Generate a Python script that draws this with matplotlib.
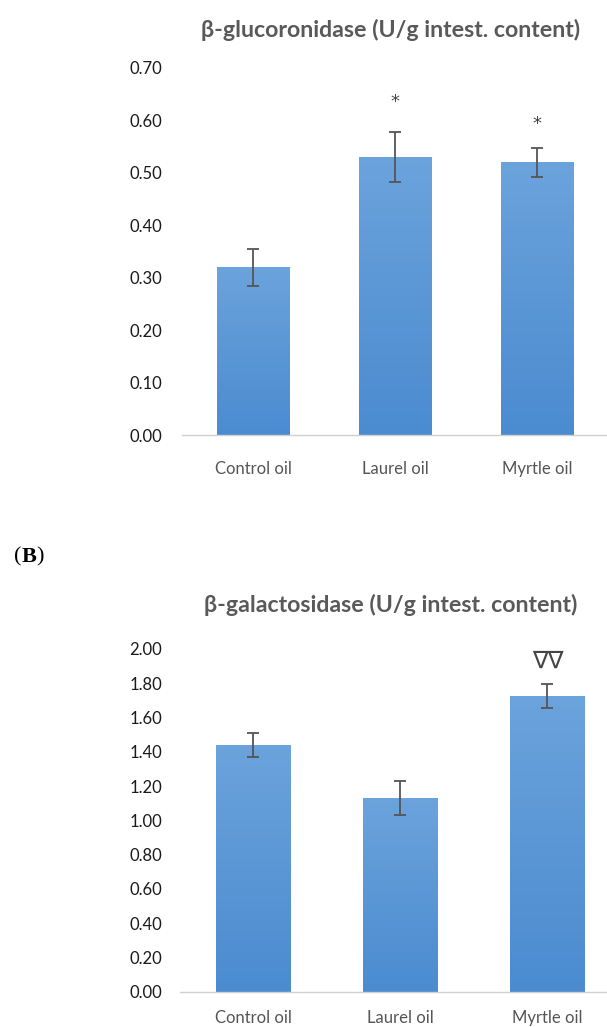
import matplotlib
matplotlib.use("Agg")
import matplotlib.pyplot as plt
import numpy as np
from matplotlib.colors import LinearSegmentedColormap

categories = ["Control oil", "Laurel oil", "Myrtle oil"]

gluc_mean = [0.32, 0.53, 0.52]
gluc_err = [0.035, 0.047, 0.027]
gluc_marks = ["", "*", "*"]
gluc_mark_y = [None, 0.635, 0.594]
gluc_ticks = [0.0, 0.1, 0.2, 0.3, 0.4, 0.5, 0.6, 0.7]

gal_mean = [1.44, 1.13, 1.725]
gal_err = [0.07, 0.10, 0.07]
gal_marks = ["", "", "∇∇"]
gal_mark_y = [None, None, 1.93]
gal_ticks = [0.0, 0.2, 0.4, 0.6, 0.8, 1.0, 1.2, 1.4, 1.6, 1.8, 2.0]

title_a = "β-glucoronidase (U/g intest. content)"
title_b = "β-galactosidase (U/g intest. content)"

FONT = "Lato"
plt.rcParams['font.family'] = [FONT, 'DejaVu Sans']

fig = plt.figure(figsize=(6.07, 10.27), dpi=100)

grad = np.linspace(0, 1, 256).reshape(-1, 1)
cmap = LinearSegmentedColormap.from_list("g", ["#4b8bd0", "#6ba3dc"])


def draw(ax, means, errs, marks, mark_y, ticks, ylim, xlab_pad, ylab_pad):
    x = np.arange(len(categories))
    bars = ax.bar(x, means, width=0.51, color="#5b9bd5", zorder=2)
    for b in bars:
        x0, y0 = b.get_x(), b.get_y()
        w, h = b.get_width(), b.get_height()
        im = ax.imshow(grad, extent=[x0, x0 + w, y0, y0 + h], origin="lower",
                       cmap=cmap, aspect="auto", zorder=2.5)
        im.set_clip_path(b)
    ax.errorbar(x, means, yerr=errs, fmt="none", ecolor="#555555",
                elinewidth=1.3, capsize=4, capthick=1.3, zorder=3)
    for xi, m, my in zip(x, marks, mark_y):
        if m:
            is_tri = "∇" in m
            ax.text(xi, my, m, ha="center", va="center",
                    fontsize=17 if is_tri else 13,
                    color="#444444", family=["DejaVu Sans"])
    ax.set_xlim(-0.5, len(categories) - 0.5)
    ax.set_ylim(*ylim)
    ax.set_yticks(ticks)
    ax.set_yticklabels([f"{t:.2f}" for t in ticks])
    ax.set_xticks(x)
    ax.set_xticklabels(categories)
    for s in ["top", "right", "left"]:
        ax.spines[s].set_visible(False)
    ax.spines["bottom"].set_color("#d0d0d0")
    ax.spines["bottom"].set_linewidth(1.0)
    ax.tick_params(axis="y", length=0, pad=ylab_pad, labelsize=12, labelcolor="#1a1a1a")
    ax.tick_params(axis="x", length=0, pad=xlab_pad, labelsize=12, labelcolor="#555555")


ax1 = fig.add_axes([0.2998, 0.5764, 0.7018, 0.3574])
draw(ax1, gluc_mean, gluc_err, gluc_marks, gluc_mark_y, gluc_ticks, (0, 0.7), 19, 14)
fig.text(391 / 607, 1 - 30 / 1027, title_a, ha="center", va="center",
         fontsize=16.7, fontweight="bold", color="#595959")

ax2 = fig.add_axes([0.2965, 0.0344, 0.7265, 0.3337])
draw(ax2, gal_mean, gal_err, gal_marks, gal_mark_y, gal_ticks, (0, 2.0), 13, 13)
fig.text(391 / 607, 1 - 605 / 1027, title_b, ha="center", va="center",
         fontsize=16.7, fontweight="bold", color="#595959")

# (B) panel label: parentheses regular, B bold, placed sequentially
renderer = fig.canvas.get_renderer()
xpx = 14
ypos = 1 - 557 / 1027
for part, weight in [("(", "normal"), ("B", "bold"), (")", "normal")]:
    t = fig.text(xpx / 607, ypos, part, ha="left", va="center", fontsize=16,
                 family=["Liberation Serif"], fontweight=weight, color="black")
    xpx += t.get_window_extent(renderer).width

fig.savefig("out.png", dpi=100)
